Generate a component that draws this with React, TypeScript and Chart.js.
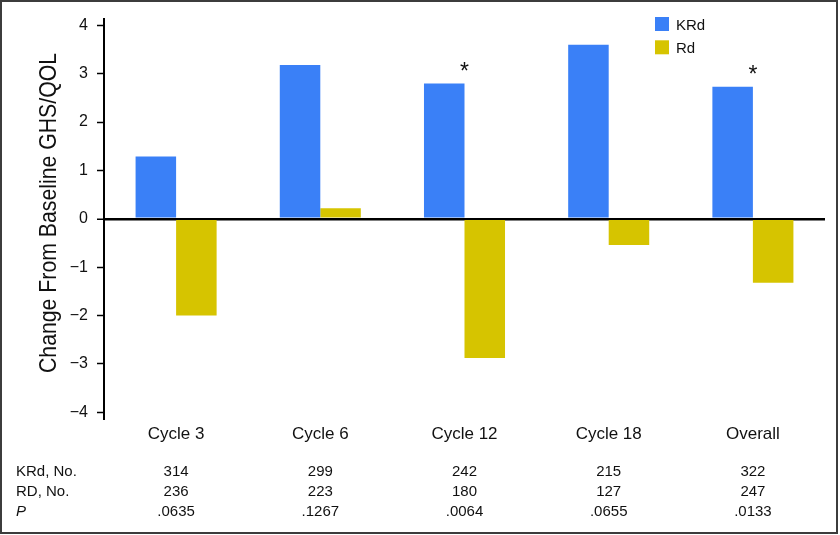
import React, { useEffect, useRef } from 'react';
import { Chart, registerables } from 'chart.js';

Chart.register(...registerables);

const categories = ['Cycle 3', 'Cycle 6', 'Cycle 12', 'Cycle 18', 'Overall'];
const seriesNames = ['KRd', 'Rd'];
const krdValues = [1.29, 3.18, 2.8, 3.6, 2.73];
const rdValues = [-2.0, 0.22, -2.88, -0.54, -1.32];
const significant = [false, false, true, false, true];
const tableRowLabels = ['KRd, No.', 'RD, No.', 'P'];
const krdCounts = ['314', '299', '242', '215', '322'];
const rdCounts = ['236', '223', '180', '127', '247'];
const pValues = ['.0635', '.1267', '.0064', '.0655', '.0133'];
const yTickValues = [-4, -3, -2, -1, 0, 1, 2, 3, 4];
const yTitle = 'Change From Baseline GHS/QOL';

const BLUE = '#3a80f7';
const YELLOW = '#d6c400';
const TEXT = '#111111';
const FONT = '"Liberation Sans", Arial, Helvetica, sans-serif';

const overlayPlugin = {
  id: 'overlay',
  beforeDraw(chart: any) {
    const { ctx, width, height } = chart;
    ctx.save();
    ctx.fillStyle = '#ffffff';
    ctx.fillRect(0, 0, width, height);
    ctx.restore();
  },
  afterDraw(chart: any) {
    const ctx = chart.ctx;
    const xs = chart.scales.x;

    // y-axis title (condensed)
    ctx.save();
    ctx.font = `24px ${FONT}`;
    const w = ctx.measureText(yTitle).width;
    ctx.translate(56, 213);
    ctx.rotate(-Math.PI / 2);
    ctx.scale(320 / w, 1);
    ctx.fillStyle = TEXT;
    ctx.textAlign = 'center';
    ctx.textBaseline = 'alphabetic';
    ctx.fillText(yTitle, 0, 0);
    ctx.restore();

    // asterisks above significant KRd bars
    const meta = chart.getDatasetMeta(0);
    ctx.save();
    ctx.font = `23px ${FONT}`;
    ctx.fillStyle = TEXT;
    ctx.textAlign = 'center';
    ctx.textBaseline = 'alphabetic';
    significant.forEach((s, i) => {
      if (!s) return;
      const bar = meta.data[i];
      const cx = xs.getPixelForValue(i);
      ctx.fillText('*', cx, bar.y - 4.5);
    });
    ctx.restore();

    // legend
    ctx.save();
    const colors = [BLUE, YELLOW];
    ctx.font = `15px ${FONT}`;
    ctx.textAlign = 'left';
    ctx.textBaseline = 'alphabetic';
    seriesNames.forEach((name, i) => {
      const top = 17 + i * 23.3;
      ctx.fillStyle = colors[i];
      ctx.fillRect(655, top, 14, 14);
      ctx.fillStyle = TEXT;
      ctx.fillText(name, 676, top + 12.6);
    });
    ctx.restore();

    // table below chart
    ctx.save();
    ctx.fillStyle = TEXT;
    const rows = [krdCounts, rdCounts, pValues];
    const baselines = [476, 496, 516];
    rows.forEach((row, r) => {
      ctx.textAlign = 'left';
      ctx.font = r === 2 ? `italic 15px ${FONT}` : `15px ${FONT}`;
      ctx.fillText(tableRowLabels[r], 16, baselines[r]);
      ctx.font = `15px ${FONT}`;
      ctx.textAlign = 'center';
      row.forEach((v, i) => {
        ctx.fillText(v, xs.getPixelForValue(i), baselines[r]);
      });
    });
    ctx.restore();

    // frame
    ctx.save();
    ctx.strokeStyle = '#3c3c3c';
    ctx.lineWidth = 2;
    ctx.strokeRect(1, 1, 836, 532);
    ctx.restore();
  },
};

export default function App() {
  const canvasRef = useRef<HTMLCanvasElement | null>(null);

  useEffect(() => {
    if (!canvasRef.current) return;
    const chart = new Chart(canvasRef.current, {
      type: 'bar',
      data: {
        labels: categories,
        datasets: [
          {
            label: seriesNames[0],
            data: krdValues,
            backgroundColor: BLUE,
            borderWidth: 0,
          },
          {
            label: seriesNames[1],
            data: rdValues,
            backgroundColor: YELLOW,
            borderWidth: 0,
          },
        ],
      },
      options: {
        responsive: false,
        animation: false,
        layout: { padding: { left: 0, right: 15, top: 13, bottom: 0 } },
        datasets: {
          bar: { barPercentage: 1.0, categoryPercentage: 0.562 },
        },
        plugins: {
          legend: { display: false },
          tooltip: { enabled: false },
          title: { display: false },
        },
        scales: {
          x: {
            grid: { display: false, drawTicks: false },
            border: { display: false },
            ticks: {
              color: TEXT,
              font: { family: FONT, size: 17 },
              padding: 5,
              maxRotation: 0,
            },
            afterFit: (scale: any) => {
              scale.height = 116;
            },
          },
          y: {
            min: -4.14,
            max: 4.14,
            border: { display: true, color: '#000000', width: 2 },
            grid: {
              drawOnChartArea: true,
              drawTicks: true,
              tickLength: 7,
              tickColor: '#000000',
              tickWidth: 1.5,
              color: (c: any) => (c.tick && c.tick.value === 0 ? '#000000' : 'rgba(0,0,0,0)'),
              lineWidth: (c: any) => (c.tick && c.tick.value === 0 ? 2.5 : 1),
            },
            ticks: {
              color: TEXT,
              font: { family: FONT, size: 16 },
              padding: 9,
              callback: (v: any) => (Number(v) < 0 ? '\u2212' + Math.abs(Number(v)) : String(v)),
            },
            afterBuildTicks: (scale: any) => {
              scale.ticks = yTickValues.map((v) => ({ value: v }));
            },
            afterFit: (scale: any) => {
              scale.width = 104;
            },
          },
        },
      },
      plugins: [overlayPlugin],
    } as any);
    return () => chart.destroy();
  }, []);

  return (
    <div style={{ position: 'fixed', left: 0, top: 0, width: 840, height: 535 }}>
      <canvas ref={canvasRef} width={840} height={535} />
    </div>
  );
}
